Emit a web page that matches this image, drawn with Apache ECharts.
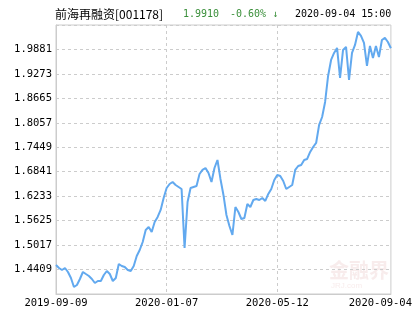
<!DOCTYPE html>
<html>
<head>
<meta charset="utf-8">
<script src="https://cdn.jsdelivr.net/npm/echarts@6/dist/echarts.min.js"></script>
<style>
html,body{margin:0;padding:0;background:#fff;}
#chart{width:415px;height:330px;}
</style>
</head>
<body>
<div id="chart"></div>
<script>
// ---- data ----
var fundName = '前海再融资[001178]';
var lastValue = '1.9910';
var lastChange = '-0.60% ↓';
var lastTime = '2020-09-04 15:00';

// x tick labels and the sample index where each falls
var tickLabels = ['2019-09-09', '2020-01-07', '2020-05-12', '2020-09-04'];
var tickIndex = [0, 37, 74, 112];

// y axis ticks
var yMin = 1.3801;
var yMax = 2.0489;
var yStep = 0.0608;

// unit net value, sampled evenly from 2019-09-09 to 2020-09-04
var navValues = [
  1.4522, 1.4448, 1.4398, 1.4448, 1.4348, 1.4199, 1.3975, 1.4025, 1.4174, 1.4348,
  1.4298, 1.4249, 1.4174, 1.4075, 1.4124, 1.4124, 1.4273, 1.4373, 1.4298, 1.4124,
  1.4199, 1.4547, 1.4497, 1.4472, 1.4398, 1.4373, 1.4497, 1.4746, 1.4895, 1.5094,
  1.5392, 1.5467, 1.5343, 1.5591, 1.5716, 1.5890, 1.6188, 1.6437, 1.6536, 1.6586,
  1.6512, 1.6462, 1.6412, 1.4945, 1.6089, 1.6437, 1.6462, 1.6487, 1.6785, 1.6885,
  1.6934, 1.6810, 1.6586, 1.6934, 1.7133, 1.6661, 1.6263, 1.5765, 1.5492, 1.5268,
  1.5964, 1.5840, 1.5666, 1.5691, 1.6039, 1.5964, 1.6138, 1.6163, 1.6138, 1.6188,
  1.6114, 1.6288, 1.6412, 1.6636, 1.6760, 1.6735, 1.6611, 1.6412, 1.6462, 1.6512,
  1.6885, 1.6984, 1.7009, 1.7133, 1.7158, 1.7332, 1.7456, 1.7556, 1.8004, 1.8202,
  1.8575, 1.9222, 1.9620, 1.9794, 1.9918, 1.9172, 1.9869, 1.9943, 1.9123, 1.9794,
  1.9993, 2.0316, 2.0217, 2.0043, 1.9471, 1.9968, 1.9670, 1.9968, 1.9694, 2.0117,
  2.0167, 2.0067, 1.9910
];

// categories: one per sample, named by the tick label where one exists
var categories = navValues.map(function (v, i) {
  var k = tickIndex.indexOf(i);
  return k >= 0 ? tickLabels[k] : String(i);
});

var monoFont = '"DejaVu Sans Mono", "Liberation Mono", monospace';
var chart = echarts.init(document.getElementById('chart'), null, {renderer: 'canvas'});

var option = {
  animation: false,
  backgroundColor: '#ffffff',
  grid: {
    left: 56, right: 23, top: 25, bottom: 36,
    show: true, borderColor: '#cccccc', borderWidth: 1, backgroundColor: 'transparent'
  },
  graphic: [
    { type: 'text', left: 55, top: 8,
      style: { text: fundName, fill: '#000000', font: '12px "Noto Sans CJK SC", sans-serif' } },
    { type: 'text', left: 183, top: 9,
      style: { text: lastValue, fill: '#3a8f3a', font: '10px ' + monoFont } },
    { type: 'text', left: 230, top: 9,
      style: { text: lastChange, fill: '#3a8f3a', font: '10px ' + monoFont } },
    { type: 'text', left: 295, top: 9,
      style: { text: lastTime, fill: '#000000', font: '10px ' + monoFont } },
    { type: 'text', left: 329, top: 260, z: -1,
      style: { text: '金融界', fill: '#f8ecec', font: 'bold 20px "Noto Sans CJK SC", sans-serif' } },
    { type: 'text', left: 331, top: 282, z: -1,
      style: { text: 'JRJ.com', fill: '#f8ecec', font: '8px sans-serif' } }
  ],
  xAxis: {
    type: 'category',
    data: categories,
    boundaryGap: false,
    axisLine: { show: true, lineStyle: { color: '#cccccc', width: 1 } },
    axisTick: { show: false },
    axisLabel: {
      interval: function (i) { return tickIndex.indexOf(i) >= 0; },
      margin: 4,
      color: '#000000',
      fontFamily: monoFont,
      fontSize: 10.5,
      formatter: function (v, i) {
        var k = tickIndex.indexOf(i);
        if (k < 0) return '';
        return k === tickLabels.length - 1 ? '{last|' + tickLabels[k] + '}' : tickLabels[k];
      },
      rich: {
        last: { fontFamily: monoFont, fontSize: 10.5, color: '#000000', padding: [0, 21, 0, 0] }
      }
    },
    splitLine: {
      show: true,
      interval: function (i) { return i > 0 && i < navValues.length - 1 && tickIndex.indexOf(i) >= 0; },
      lineStyle: { color: '#cccccc', type: [3, 3], width: 1 }
    }
  },
  yAxis: {
    type: 'value',
    min: yMin,
    max: yMax,
    interval: yStep,
    axisLine: { show: true, lineStyle: { color: '#cccccc', width: 1 } },
    axisTick: { show: false },
    axisLabel: {
      showMinLabel: false,
      showMaxLabel: false,
      margin: 4,
      color: '#000000',
      fontFamily: monoFont,
      fontSize: 10.5,
      formatter: function (v) { return v.toFixed(4); }
    },
    splitLine: { show: true, lineStyle: { color: '#cccccc', type: [3, 3], width: 1 } }
  },
  series: [{
    type: 'line',
    data: navValues,
    symbol: 'none',
    smooth: false,
    lineStyle: { color: '#62a9ef', width: 2 },
    z: 3
  }]
};
chart.setOption(option);
</script>
</body>
</html>
